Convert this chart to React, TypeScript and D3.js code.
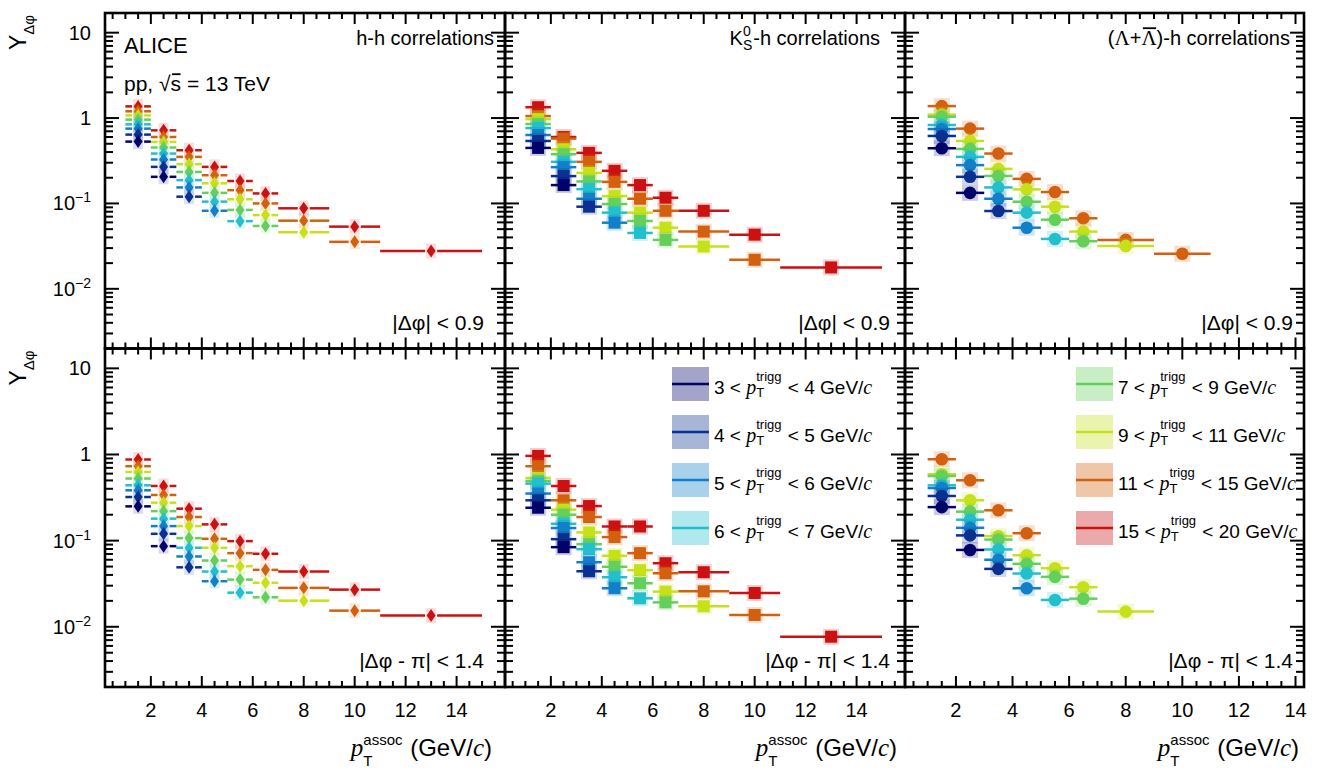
import * as d3 from "d3";
import * as React from "react";

// associated-pT bins (GeV/c)
const binLo = [1, 2, 3, 4, 5, 6, 7, 9, 11];
const binHi = [2, 3, 4, 5, 6, 7, 9, 11, 15];
const binMid = [1.5, 2.5, 3.5, 4.5, 5.5, 6.5, 8, 10, 13];

// trigger-pT classes
const trigLo = [3, 4, 5, 6, 7, 9, 11, 15];
const trigHi = [4, 5, 6, 7, 9, 11, 15, 20];
const colours = ["#02026a", "#0a3190", "#127fc9", "#23bfcc", "#65cf5c", "#c6e01a", "#d3600e", "#cb1111"];

// near side |dphi| < 0.9
const hhNear = [
    [0.53, 0.205],
    [0.64, 0.268, 0.12],
    [0.752, 0.327, 0.154, 0.082],
    [0.844, 0.384, 0.1875, 0.105, 0.062],
    [0.958, 0.452, 0.234, 0.133, 0.084, 0.0545],
    [1.075, 0.525, 0.288, 0.172, 0.112, 0.073, 0.046],
    [1.2, 0.6, 0.351, 0.214, 0.143, 0.1, 0.0628, 0.0355],
    [1.37, 0.718, 0.42, 0.268, 0.183, 0.131, 0.0877, 0.0535, 0.0278],
];
const k0Near = [
    [0.447, 0.164],
    [0.539, 0.209, 0.0916],
    [0.633, 0.266, 0.1135, 0.0595],
    [0.764, 0.307, 0.147, 0.078, 0.0451],
    [0.851, 0.377, 0.181, 0.0984, 0.0623, 0.0374],
    [0.973, 0.431, 0.228, 0.122, 0.078, 0.052, 0.0313],
    [1.055, 0.575, 0.307, 0.179, 0.1135, 0.082, 0.0468, 0.0219],
    [1.34, 0.6, 0.391, 0.241, 0.164, 0.1166, 0.082, 0.0431, 0.0178],
];
const lamNear = [
    [0.443, 0.133],
    [0.617, 0.205, 0.0815],
    [0.744, 0.281, 0.1135, 0.052],
    [0.829, 0.351, 0.154, 0.078, 0.0384],
    [1.038, 0.435, 0.21, 0.1047, 0.0645, 0.0361],
    [1.096, 0.539, 0.254, 0.146, 0.0916, 0.0468, 0.0318],
    [1.38, 0.752, 0.384, 0.194, 0.136, 0.067, 0.0374, 0.0257],
    [],
];

// away side |dphi - pi| < 1.4
const hhAway = [
    [0.25, 0.0863],
    [0.321, 0.12, 0.049],
    [0.384, 0.1475, 0.0655, 0.0338],
    [0.439, 0.18, 0.0827, 0.0438, 0.0249],
    [0.526, 0.22, 0.107, 0.0588, 0.0353, 0.022],
    [0.627, 0.276, 0.1475, 0.0827, 0.0505, 0.0324, 0.0201],
    [0.731, 0.339, 0.188, 0.105, 0.0716, 0.0458, 0.0283, 0.0154],
    [0.875, 0.431, 0.235, 0.1545, 0.0987, 0.0704, 0.0438, 0.027, 0.0135],
];
const k0Away = [
    [0.241, 0.084],
    [0.294, 0.104, 0.0441],
    [0.352, 0.14, 0.0562, 0.028],
    [0.459, 0.157, 0.0796, 0.0376, 0.0214],
    [0.493, 0.2, 0.091, 0.0497, 0.032, 0.0192],
    [0.534, 0.229, 0.1246, 0.0667, 0.0454, 0.0256, 0.0173],
    [0.731, 0.294, 0.188, 0.11, 0.0716, 0.0418, 0.0258, 0.0137],
    [0.963, 0.431, 0.252, 0.146, 0.146, 0.0547, 0.043, 0.0247, 0.00767],
];
const lamAway = [
    [0.245, 0.078],
    [0.33, 0.115, 0.047],
    [0.408, 0.141, 0.06, 0.028],
    [0.439, 0.175, 0.079, 0.0415, 0.0205],
    [0.563, 0.217, 0.103, 0.0538, 0.038, 0.0212],
    [0.59, 0.294, 0.1128, 0.0678, 0.0479, 0.0288, 0.015],
    [0.881, 0.502, 0.225, 0.122],
    [],
];

const xTickLabels = [2, 4, 6, 8, 10, 12, 14];
const yLabelDecades = [10, 1, 0.1, 0.01];

const SANS = "'Liberation Sans', Arial, Helvetica, sans-serif";
const SERIF = "'Liberation Serif', 'Times New Roman', serif";

interface Part {
    t?: string;
    sup?: string;
    sub?: string;
    size: number;
    serif?: boolean;
    italic?: boolean;
    dy?: number;
    supDy?: number;
    subDy?: number;
    bar?: boolean;
}

// lays out a run of text pieces left to right (ROOT-latex style)
function rich(parent: any, parts: Part[], x: number, y: number, anchor: "start" | "end") {
    const g = parent.append("g");
    let cx = 0;
    parts.forEach(p => {
        const mk = (s: string, dy: number) => g.append("text")
            .attr("x", cx)
            .attr("y", y + dy)
            .attr("font-family", p.serif ? SERIF : SANS)
            .attr("font-style", p.italic ? "italic" : "normal")
            .attr("font-size", p.size)
            .attr("fill", "#000")
            .style("white-space", "pre")
            .text(s);
        if (p.sup !== undefined || p.sub !== undefined) {
            let w = 0;
            if (p.sup) w = Math.max(w, mk(p.sup, p.supDy ?? -8).node().getComputedTextLength());
            if (p.sub) w = Math.max(w, mk(p.sub, p.subDy ?? 6).node().getComputedTextLength());
            cx += w + 1;
        } else {
            const w = mk(p.t || "", p.dy ?? 0).node().getComputedTextLength();
            if (p.bar) {
                g.append("line")
                    .attr("x1", cx + 1.5).attr("x2", cx + w - 0.5)
                    .attr("y1", y - p.size * 0.8).attr("y2", y - p.size * 0.8)
                    .attr("stroke", "#000").attr("stroke-width", 1.8);
            }
            cx += w;
        }
    });
    g.attr("transform", `translate(${anchor === "end" ? x - cx : x},0)`);
}

const cols = [
    { left: 105, right: 505, xMax: 15.9, title: 494, cut: 484, axis: 492 },
    { left: 505, right: 905, xMax: 15.9, title: 880, cut: 890, axis: 897 },
    { left: 905, right: 1304, xMax: 14.3, title: 1290, cut: 1293, axis: 1299 },
];
const rows = [
    { top: 13, bottom: 348.5 },
    { top: 348.5, bottom: 687 },
];
const datasets = [[hhNear, k0Near, lamNear], [hhAway, k0Away, lamAway]];
const markers = ["diamond", "square", "circle"];

export default function App(): JSX.Element {
    const ref = React.useRef<SVGSVGElement>(null);

    React.useEffect(() => {
        const svg = d3.select(ref.current);
        svg.selectAll("*").remove();
        svg.append("rect").attr("width", 1318).attr("height", 773).attr("fill", "#fff");

        rows.forEach((row, r) => {
            cols.forEach((col, c) => {
                const x = d3.scaleLinear().domain([0.2, col.xMax]).range([col.left, col.right]);
                const y = d3.scaleLog().domain([0.002, 17]).range([row.bottom, row.top]);
                const g = svg.append("g");
                const data = datasets[r][c];
                const mk = markers[c];

                for (let s = 7; s >= 0; s--) {
                    const col_ = colours[s];
                    data[s].forEach((v, i) => {
                        const cx = x(binMid[i]);
                        const cy = y(v);
                        if (mk === "diamond") {
                            g.append("rect").attr("x", cx - 5).attr("y", cy - 7.5).attr("width", 10).attr("height", 15)
                                .attr("fill", col_).attr("opacity", 0.14);
                            g.append("line").attr("x1", x(binLo[i])).attr("x2", cx - 6).attr("y1", cy).attr("y2", cy)
                                .attr("stroke", col_).attr("stroke-width", 2.5);
                            g.append("line").attr("x1", cx + 6).attr("x2", x(binHi[i])).attr("y1", cy).attr("y2", cy)
                                .attr("stroke", col_).attr("stroke-width", 2.5);
                            g.append("path").attr("d", `M${cx},${cy - 6.5}L${cx + 4.5},${cy}L${cx},${cy + 6.5}L${cx - 4.5},${cy}Z`)
                                .attr("fill", col_);
                        } else {
                            g.append("rect").attr("x", cx - 8).attr("y", cy - 8).attr("width", 16).attr("height", 16)
                                .attr("fill", col_).attr("opacity", 0.2);
                            g.append("line").attr("x1", x(binLo[i])).attr("x2", x(binHi[i])).attr("y1", cy).attr("y2", cy)
                                .attr("stroke", col_).attr("stroke-width", 2.5);
                            if (mk === "square") {
                                g.append("rect").attr("x", cx - 6).attr("y", cy - 6).attr("width", 12).attr("height", 12)
                                    .attr("fill", col_);
                            } else {
                                g.append("circle").attr("cx", cx).attr("cy", cy).attr("r", 6.3).attr("fill", col_);
                            }
                        }
                    });
                }

                // ticks
                const tick = (x1: number, y1: number, x2: number, y2: number) =>
                    g.append("line").attr("x1", x1).attr("y1", y1).attr("x2", x2).attr("y2", y2)
                        .attr("stroke", "#000").attr("stroke-width", 2);
                for (let v = 0.5; v <= col.xMax; v += 0.5) {
                    const major = v % 2 === 0;
                    const len = major ? 11 : 6;
                    tick(x(v), row.bottom, x(v), row.bottom - len);
                    tick(x(v), row.top, x(v), row.top + len);
                }
                for (let d = -3; d <= 1; d++) {
                    for (let k = 1; k <= 9; k++) {
                        const v = k * Math.pow(10, d);
                        if (v < 0.002 || v > 17) continue;
                        const len = k === 1 ? 14 : 8;
                        tick(col.left, y(v), col.left + len, y(v));
                        tick(col.right, y(v), col.right - len, y(v));
                    }
                }
                g.append("rect").attr("x", col.left).attr("y", row.top)
                    .attr("width", col.right - col.left).attr("height", row.bottom - row.top)
                    .attr("fill", "none").attr("stroke", "#000").attr("stroke-width", 2.6);

                if (c === 0) {
                    yLabelDecades.forEach(v => {
                        const parts: Part[] = v >= 1
                            ? [{ t: String(v), size: 20 }]
                            : [{ t: "10", size: 20 }, { t: "\u2212" + String(-Math.round(Math.log10(v))), size: 14, dy: -8 }];
                        rich(svg, parts, 91, y(v) + 7, "end");
                    });
                    const ty = svg.append("g").attr("transform", `translate(26,${row.top + 1}) rotate(-90)`);
                    rich(ty, [{ t: "Y", size: 23 }, { sub: "\u0394\u03c6", size: 15, subDy: 8 }], 0, 0, "end");
                }

                if (r === 1) {
                    xTickLabels.forEach(v => {
                        svg.append("text").attr("x", x(v)).attr("y", 717).attr("text-anchor", "middle")
                            .attr("font-family", SANS).attr("font-size", 20).text(String(v));
                    });
                    rich(svg, [
                        { t: "p", size: 25, serif: true, italic: true },
                        { sup: "assoc", sub: "T", size: 15, supDy: -11, subDy: 10 },
                        { t: " (GeV/", size: 24 },
                        { t: "c", size: 25, serif: true, italic: true },
                        { t: ")", size: 24 },
                    ], col.axis, 756, "end");
                }

                const cutParts: Part[] = r === 0
                    ? [{ t: "|\u0394\u03c6| < 0.9", size: 21 }]
                    : [{ t: "|\u0394\u03c6 - \u03c0| < 1.4", size: 21 }];
                rich(svg, cutParts, col.cut, row.bottom - 19, "end");
            });
        });

        // panel titles
        rich(svg, [{ t: "ALICE", size: 22 }], 124, 53, "start");
        rich(svg, [{ t: "pp, \u221a", size: 21 }, { t: "s", size: 21, bar: true }, { t: " = 13 TeV", size: 21 }], 124, 91, "start");
        rich(svg, [{ t: "h-h correlations", size: 20 }], cols[0].title, 45, "end");
        rich(svg, [{ t: "K", size: 20 }, { sup: "0", sub: "S", size: 14, supDy: -9, subDy: 5 }, { t: "-h correlations", size: 20 }],
            cols[1].title, 45, "end");
        rich(svg, [
            { t: "(", size: 20 }, { t: "\u039b", size: 21, serif: true }, { t: "+", size: 20 },
            { t: "\u039b", size: 21, serif: true, bar: true }, { t: ")-h correlations", size: 20 },
        ], cols[2].title, 45, "end");

        // legends
        const legendRows = [384, 432, 480, 528];
        [[0, 1, 2, 3], [4, 5, 6, 7]].forEach((idx, li) => {
            const bx = li === 0 ? 672 : 1076;
            idx.forEach((s, k) => {
                const cy = legendRows[k];
                svg.append("rect").attr("x", bx).attr("y", cy - 17).attr("width", 37).attr("height", 34)
                    .attr("fill", colours[s]).attr("opacity", 0.36);
                svg.append("line").attr("x1", bx).attr("x2", bx + 37).attr("y1", cy).attr("y2", cy)
                    .attr("stroke", colours[s]).attr("stroke-width", 2.5);
                rich(svg, [
                    { t: `${trigLo[s]} < `, size: 19 },
                    { t: "p", size: 20, serif: true, italic: true },
                    { sup: "trigg", sub: "T", size: 13, supDy: -13, subDy: 3 },
                    { t: ` < ${trigHi[s]} GeV/`, size: 19 },
                    { t: "c", size: 20, serif: true, italic: true },
                ], bx + 42, cy + 10, "start");
            });
        });
    }, []);

    return (
        <svg
            ref={ref}
            width={1318}
            height={773}
            style={{ position: "absolute", left: 0, top: 0, display: "block" }}
        />
    );
}
